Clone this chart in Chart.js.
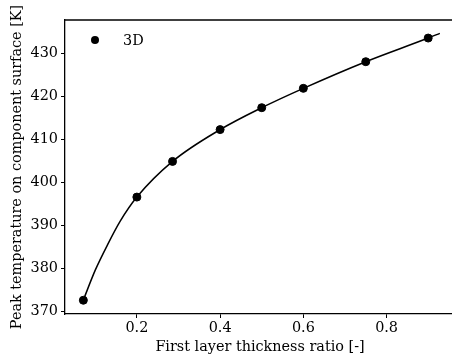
<!DOCTYPE html>
<html>
<head>
<meta charset="utf-8">
<script src="https://cdn.jsdelivr.net/npm/chart.js@4.4.0/dist/chart.umd.min.js"></script>
<style>
  html, body { margin: 0; padding: 0; background: #fff; overflow: hidden; }
  #wrap { width: 452px; height: 360px; overflow: hidden; }
  #box { width: 460px; height: 360px; }
</style>
</head>
<body>
<div id="wrap"><div id="box"><canvas id="chart"></canvas></div></div>
<script>
// measured points (3D simulations)
const ratioX = [0.0714, 0.2, 0.2857, 0.4, 0.5, 0.6, 0.75, 0.9];
const peakT = [372.6, 396.6, 404.9, 412.3, 417.4, 421.9, 428.1, 433.6];

// fitted curve
const curveX = [0.07, 0.1, 0.13, 0.16, 0.2, 0.2857, 0.4, 0.5, 0.6, 0.75, 0.9, 0.928];
const curveY = [372.3, 379.6, 385.6, 391.0, 396.6, 404.9, 412.3, 417.4, 421.9, 428.1, 433.6, 434.7];

const xTicks = [0.2, 0.4, 0.6, 0.8];
const yTicks = [370, 380, 390, 400, 410, 420, 430];

const FONT = { family: "'DejaVu Serif', serif", size: 14.4 };

// top spine + legend drawn inside the axes
const frame = {
    id: 'frame',
    afterDraw(chart) {
        const { ctx, chartArea } = chart;
        ctx.save();
        ctx.strokeStyle = '#000';
        ctx.lineWidth = 1.3;
        ctx.beginPath();
        ctx.moveTo(chartArea.left, chartArea.top);
        ctx.lineTo(chartArea.right, chartArea.top);
        ctx.stroke();
        // legend
        ctx.fillStyle = '#000';
        ctx.beginPath();
        ctx.arc(95, 40, 4, 0, Math.PI * 2);
        ctx.fill();
        ctx.font = "14.4px 'DejaVu Serif', serif";
        ctx.textBaseline = 'middle';
        ctx.fillText('3D', 123, 41);
        ctx.restore();
    }
};

new Chart(document.getElementById('chart'), {
    type: 'scatter',
    data: {
        datasets: [
            {
                label: 'fit',
                type: 'line',
                data: curveX.map((x, i) => ({ x, y: curveY[i] })),
                borderColor: '#000',
                borderWidth: 1.5,
                pointRadius: 0,
                cubicInterpolationMode: 'monotone',
                fill: false
            },
            {
                label: '3D',
                data: ratioX.map((x, i) => ({ x, y: peakT[i] })),
                backgroundColor: '#000',
                borderColor: '#000',
                pointRadius: 4,
                pointHoverRadius: 4
            }
        ]
    },
    options: {
        responsive: true,
        maintainAspectRatio: false,
        animation: false,
        layout: { padding: { top: 20, right: 0, left: 0, bottom: 0 } },
        plugins: { legend: { display: false }, tooltip: { enabled: false } },
        scales: {
            x: {
                type: 'linear',
                min: 0.0273,
                max: 0.9644,
                afterBuildTicks: s => { s.ticks = xTicks.map(v => ({ value: v })); },
                afterFit: s => { s.height = 46; },
                grid: { drawOnChartArea: false, color: '#000', tickLength: 4, tickWidth: 1 },
                border: { color: '#000', width: 1.3 },
                ticks: { color: '#000', font: FONT, padding: 2, maxRotation: 0, callback: v => v.toFixed(1) },
                title: { display: true, text: 'First layer thickness ratio [-]', color: '#000', font: FONT, padding: { top: 0, bottom: 4.5 } }
            },
            y: {
                min: 369.4,
                max: 437.8,
                afterBuildTicks: s => { s.ticks = yTicks.map(v => ({ value: v })); },
                afterFit: s => { s.width = 65; },
                grid: { drawOnChartArea: false, color: '#000', tickLength: 4, tickWidth: 1 },
                border: { color: '#000', width: 1.3 },
                ticks: { color: '#000', font: FONT, padding: 3 },
                title: { display: true, text: 'Peak temperature on component surface [K]', color: '#000', font: FONT, padding: { top: 9, bottom: 0 } }
            }
        }
    },
    plugins: [frame]
});
</script>
</body>
</html>
